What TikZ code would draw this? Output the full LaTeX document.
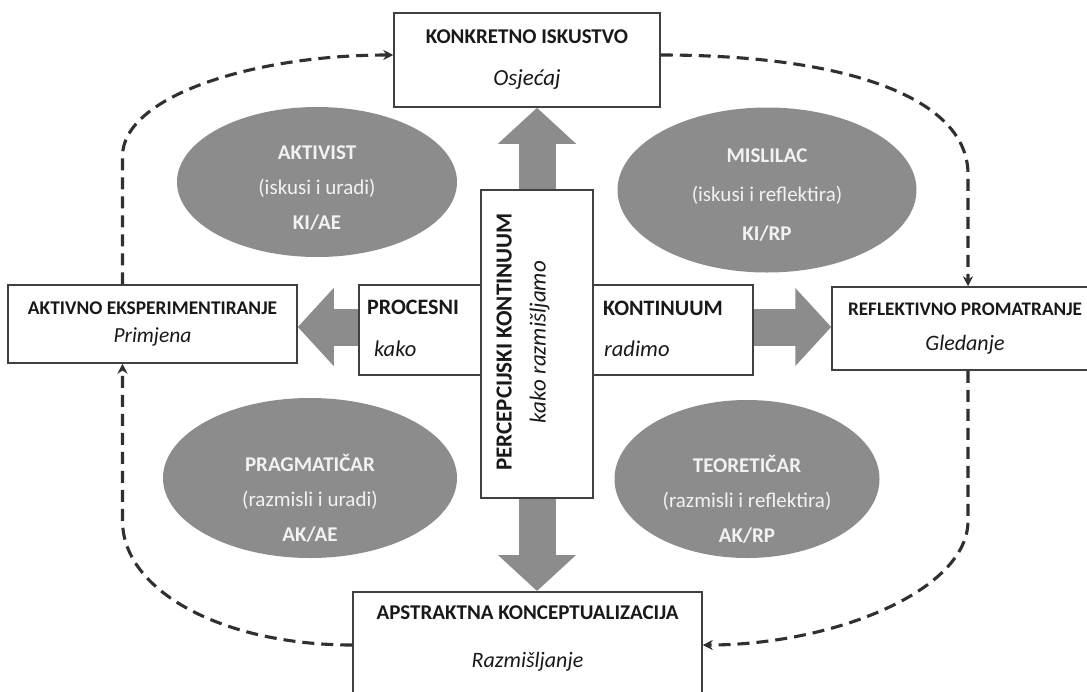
\documentclass[tikz,border=0pt]{standalone}
\usepackage{fontspec}
\setmainfont{Carlito}
\usetikzlibrary{shapes.geometric,arrows.meta,positioning}
\definecolor{stylegray}{HTML}{8C8C8C}
\definecolor{framegray}{HTML}{404040}
\definecolor{dashgray}{HTML}{303030}
\tikzset{
  stagebox/.style={draw=framegray, line width=1.5pt, fill=white, align=center, text=black!90, inner sep=0pt},
  stylecloud/.style={ellipse, fill=stylegray, inner sep=0pt},
  cloudtext/.style={align=center, inner sep=0pt, text=white!95!black, font=\fontsize{21}{35}\selectfont},
  bigarrow/.style={draw=stylegray, line width=37pt, -{Triangle[length=36pt,width=76pt]}},
  cyclearrow/.style={draw=dashgray, line width=3.1pt, dash pattern=on 12pt off 7pt,
    -{Stealth[length=10pt,width=10pt]}},
  boxword/.style={anchor=west, inner sep=0pt, text=black!90}
}
\begin{document}
\begin{tikzpicture}[x=1pt,y=-1pt]
  \useasboundingbox[fill=white] (0,0) rectangle (1087,691);

  % the four stages
  \node[stagebox, minimum width=266pt, minimum height=94pt, font=\fontsize{21}{42}\selectfont]
    (ki) at (527,60) {\textbf{KONKRETNO ISKUSTVO}\\\fontsize{23}{42}\selectfont\textit{Osjećaj}};
  \node[stagebox, minimum width=289pt, minimum height=78pt, font=\fontsize{19.4}{28}\selectfont]
    (ae) at (152.5,324) {\textbf{AKTIVNO EKSPERIMENTIRANJE}\\\fontsize{21.5}{28}\selectfont\textit{Primjena}};
  \node[stagebox, minimum width=266pt, minimum height=83pt, font=\fontsize{19.2}{35}\selectfont]
    (rp) at (965,328.5) {\textbf{REFLEKTIVNO PROMATRANJE}\\\fontsize{22}{35}\selectfont\textit{Gledanje}};
  \node[stagebox, anchor=north, minimum width=349pt, inner ysep=14pt, text depth=45pt,
    font=\fontsize{21}{48}\selectfont]
    (ak) at (527.5,591) {\textbf{APSTRAKTNA KONCEPTUALIZACIJA}\\\fontsize{22}{48}\selectfont\textit{Razmišljanje}};

  % the two continua
  \node[stagebox, minimum width=394pt, minimum height=90pt] (hb) at (556,330) {};
  \node[boxword, font=\fontsize{22}{24}\selectfont\bfseries] (procesni) at (367,307) {PROCESNI};
  \node[boxword, font=\fontsize{22.5}{24}\selectfont\itshape] (kako) at (374,349) {kako};
  \node[boxword, font=\fontsize{22}{24}\selectfont\bfseries] (kontinuum) at (603,308) {KONTINUUM};
  \node[boxword, font=\fontsize{22.5}{24}\selectfont\itshape] (radimo) at (604,349) {radimo};
  \node[stagebox, minimum width=112pt, minimum height=308pt] (pk) at (537,344) {};
  \node[rotate=90, align=center, inner sep=0pt, text=black!90, font=\fontsize{23}{34}\selectfont]
    (pktext) at (523,342) {\textbf{PERCEPCIJSKI KONTINUUM}\\\fontsize{23}{34}\selectfont\textit{kako razmišljamo}};

  % block arrows
  \draw[bigarrow] (pk.north) -- (pk.north |- ki.south);
  \draw[bigarrow] (pk.south) -- (pk.south |- ak.north);
  \draw[bigarrow] ([yshift=3pt]hb.west) -- ([yshift=3pt]hb.west -| ae.east);
  \draw[bigarrow] ([yshift=3pt]hb.east) -- ([yshift=3pt]hb.east -| rp.west);

  % learning styles
  \node[stylecloud, minimum width=280pt, minimum height=150pt] (aktivist) at (317,182) {};
  \node[cloudtext] (aktivisttext) at ([yshift=-6pt]aktivist.center)
    {\textbf{AKTIVIST}\\(iskusi i uradi)\\\textbf{KI/AE}};
  \node[stylecloud, minimum width=299pt, minimum height=165pt] (mislilac) at (767,190) {};
  \node[cloudtext, font=\fontsize{21}{39}\selectfont] (mislilactext) at ([yshift=-5pt]mislilac.center)
    {\textbf{MISLILAC}\\(iskusi i reflektira)\\\textbf{KI/RP}};
  \node[stylecloud, minimum width=294pt, minimum height=160pt] (pragmaticar) at (310,478) {};
  \node[cloudtext] (pragmaticartext) at ([yshift=-20pt]pragmaticar.center)
    {\textbf{PRAGMATIČAR}\\(razmisli i uradi)\\\textbf{AK/AE}};
  \node[stylecloud, minimum width=265pt, minimum height=158pt] (teoreticar) at (747,479) {};
  \node[cloudtext] (teoreticartext) at ([yshift=-20pt]teoreticar.center)
    {\textbf{TEORETIČAR}\\(razmisli i reflektira)\\\textbf{AK/RP}};

  % the cycle
  \draw[cyclearrow] ([xshift=-30pt]ae.north) -- ++(0,-128)
    .. controls +(0,-60) and +(-140,0) .. ([yshift=5pt]ki.west);
  \draw[cyclearrow] ([yshift=5pt]ki.east) .. controls +(190,0) and +(0,-75)
    .. ([xshift=3pt,yshift=112pt]rp.north) -- ([xshift=3pt]rp.north);
  \draw[cyclearrow] ([xshift=3pt]rp.south) -- ++(0,150)
    .. controls +(0,70) and +(130,0) .. ([yshift=-54pt]ak.north east);
  \draw[cyclearrow] ([yshift=-54pt]ak.north west) .. controls +(-130,0) and +(0,70)
    .. ([xshift=-30pt,yshift=-157pt]ae.south) -- ([xshift=-30pt]ae.south);
\end{tikzpicture}
\end{document}
